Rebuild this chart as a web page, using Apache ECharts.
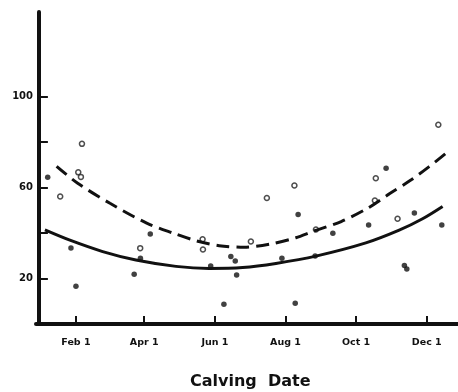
<!DOCTYPE html>
<html>
<head>
<meta charset="utf-8">
<script src="https://cdn.jsdelivr.net/npm/echarts@6/dist/echarts.min.js"></script>
<style>html,body{margin:0;padding:0;background:#fff}#c{width:458px;height:392px}</style>
</head>
<body>
<div id="c"></div>
<script>
// x = day of year
const tickDays = [32, 91, 152, 213, 274, 335];
const tickLabels = ['Feb 1', 'Apr 1', 'Jun 1', 'Aug 1', 'Oct 1', 'Dec 1'];
const yTicks = [20, 40, 60, 80, 100];
const yLabels = [20, 60, 100];

const openX = [37.2, 18.4, 34, 36.3, 87.5, 141.4, 141.7, 183.1, 239.3, 220.7, 196.9, 345, 291, 290.2, 309.8];
const openY = [79.1, 56, 66.6, 64.6, 33.3, 37.2, 32.7, 36.2, 41.5, 60.8, 55.3, 87.5, 64, 54.2, 46.2];

const filledX = [7.6, 27.7, 32, 82.3, 87.7, 96.2, 148.4, 165.8, 169.6, 170.8, 159.8, 209.9, 221.4, 223.9, 238.6, 253.9, 299.9, 284.8, 324.3, 348, 315.7, 317.8];
const filledY = [64.4, 33.4, 16.6, 21.8, 28.9, 39.5, 25.5, 29.6, 27.7, 21.5, 8.7, 28.9, 9.1, 48.1, 29.9, 39.9, 68.4, 43.5, 48.7, 43.5, 25.7, 24.2];

const dashX = [15.3, 33.5, 61.4, 93.1, 116, 136.2, 155.7, 177.3, 198.9, 222, 236.4, 261.1, 284.2, 301.4, 321.6, 337.1, 353];
const dashY = [69.2, 61.8, 53, 44.3, 39.9, 36.5, 34.4, 33.7, 35, 37.9, 40.6, 45, 50.9, 56.7, 63.3, 69.1, 75.5];

const solidX = [5.2, 26.2, 55.1, 83.8, 118.4, 147.1, 176, 204.7, 239.3, 282.4, 311.2, 331.4, 348.7];
const solidY = [41.3, 36.9, 31.8, 28.1, 25.3, 24.4, 24.8, 26.6, 29.8, 35.6, 41.2, 46.2, 51.6];

const zip = (a, b) => a.map((v, i) => [v, b[i]]);

const chart = echarts.init(document.getElementById('c'), null, {renderer: 'canvas'});
chart.setOption({
  animation: false,
  backgroundColor: '#fff',
  grid: {left: 36, right: 0, top: 12, bottom: 68},
  xAxis: {
    type: 'value', min: -2.5, max: 362,
    splitLine: {show: false},
    axisLine: {show: true, onZero: false, lineStyle: {color: '#111', width: 4}},
    axisTick: {show: true, inside: true, length: 8, customValues: tickDays, lineStyle: {color: '#111', width: 2}},
    axisLabel: {
      customValues: tickDays, margin: 14,
      formatter: v => tickLabels[tickDays.indexOf(v)],
      fontFamily: 'DejaVu Sans', fontWeight: 'bold', fontSize: 9.5, color: '#111'
    }
  },
  yAxis: {
    type: 'value', min: 0, max: 137,
    splitLine: {show: false},
    axisLine: {show: true, lineStyle: {color: '#111', width: 4}},
    axisTick: {show: true, inside: true, length: 9, customValues: yTicks, lineStyle: {color: '#111', width: 2}},
    axisLabel: {
      customValues: yLabels, margin: 3,
      fontFamily: 'DejaVu Sans', fontWeight: 'bold', fontSize: 10, color: '#111'
    }
  },
  graphic: [{
    type: 'text', left: 190, top: 374,
    style: {text: 'Calving  Date', font: 'bold 16px "DejaVu Sans"', fill: '#111'}
  }],
  series: [
    {type: 'line', data: zip(dashX, dashY), smooth: 0.3, showSymbol: false, clip: false,
     lineStyle: {color: '#111', width: 3, type: [13, 7]}},
    {type: 'line', data: zip(solidX, solidY), smooth: 0.3, showSymbol: false, clip: false,
     lineStyle: {color: '#111', width: 3}},
    {type: 'scatter', data: zip(filledX, filledY), symbol: 'circle', symbolSize: 5.5,
     itemStyle: {color: '#111'}},
    {type: 'scatter', data: zip(openX, openY), symbol: 'circle', symbolSize: 5,
     itemStyle: {color: '#fff', borderColor: '#222', borderWidth: 1.5}}
  ]
});
</script>
</body>
</html>
